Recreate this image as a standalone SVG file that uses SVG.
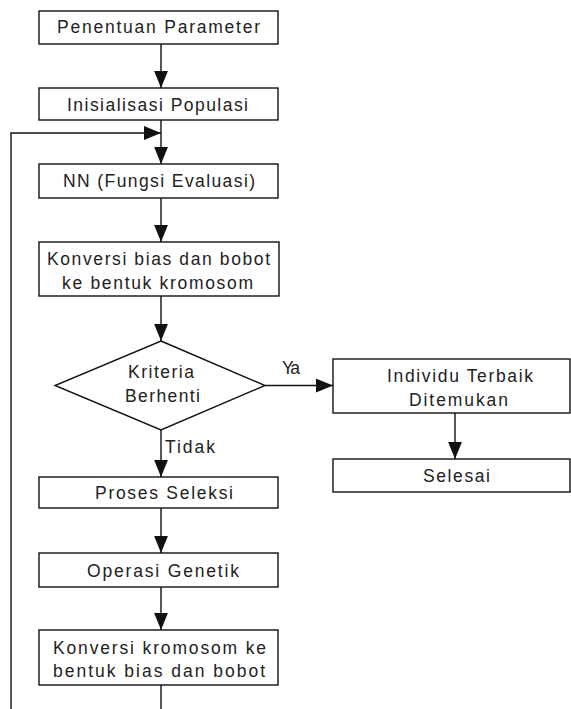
<svg xmlns="http://www.w3.org/2000/svg" width="571" height="709" viewBox="0 0 571 709">
<defs>
<style>
.box{fill:#fff;stroke:#111;stroke-width:1.4}
.ln{fill:none;stroke:#111;stroke-width:1.4}
text{font-family:"Liberation Sans",Arial,sans-serif;font-size:17.5px;fill:#222}
</style>
<marker id="ah" markerUnits="userSpaceOnUse" markerWidth="17" markerHeight="14" viewBox="0 0 16 13" refX="16" refY="6.5" orient="auto">
<path d="M0,0 L16,6.5 L0,13 z" fill="#111"/>
</marker>
</defs>
<rect width="571" height="709" fill="#fff"/>
<g id="connectors">
<line class="ln" x1="161" y1="44" x2="161" y2="88" marker-end="url(#ah)"/>
<line class="ln" x1="161" y1="120" x2="161" y2="164" marker-end="url(#ah)"/>
<path class="ln" d="M161,685 V730 H11 V133 H161" marker-end="url(#ah)"/>
<line class="ln" x1="161" y1="198" x2="161" y2="242" marker-end="url(#ah)"/>
<line class="ln" x1="161" y1="296" x2="161" y2="341" marker-end="url(#ah)"/>
<line class="ln" x1="265" y1="385.5" x2="333" y2="385.5" marker-end="url(#ah)"/>
<line class="ln" x1="161" y1="430" x2="161" y2="477" marker-end="url(#ah)"/>
<line class="ln" x1="455" y1="413" x2="455" y2="459" marker-end="url(#ah)"/>
<line class="ln" x1="161" y1="508" x2="161" y2="553" marker-end="url(#ah)"/>
<line class="ln" x1="161" y1="587" x2="161" y2="630" marker-end="url(#ah)"/>
<text x="282" y="374" textLength="18">Ya</text>
<text x="165" y="453" textLength="50">Tidak</text>
</g>
<g id="n1">
<rect class="box" x="39" y="11" width="239" height="33"/>
<text x="57" y="33" textLength="203">Penentuan Parameter</text>
</g>
<g id="n2">
<rect class="box" x="39" y="88" width="239" height="32"/>
<text x="67" y="111" textLength="181">Inisialisasi Populasi</text>
</g>
<g id="n3">
<rect class="box" x="39" y="164" width="239" height="34"/>
<text x="63" y="187" textLength="192">NN (Fungsi Evaluasi)</text>
</g>
<g id="n4">
<rect class="box" x="39" y="242" width="240" height="54"/>
<text x="47" y="265" textLength="223">Konversi bias dan bobot</text>
<text x="62" y="289" textLength="191">ke bentuk kromosom</text>
</g>
<g id="n5">
<polygon class="box" points="161,341 265,385.5 161,430 55,385.5"/>
<text x="128" y="378" textLength="66">Kriteria</text>
<text x="125" y="402" textLength="75">Berhenti</text>
</g>
<g id="n6">
<rect class="box" x="333" y="359" width="237" height="54"/>
<text x="387" y="382" textLength="146">Individu Terbaik</text>
<text x="409" y="406" textLength="99">Ditemukan</text>
</g>
<g id="n7">
<rect class="box" x="333" y="459" width="237" height="33"/>
<text x="423" y="482" textLength="67">Selesai</text>
</g>
<g id="n8">
<rect class="box" x="39" y="477" width="239" height="31"/>
<text x="95" y="499" textLength="138">Proses Seleksi</text>
</g>
<g id="n9">
<rect class="box" x="39" y="553" width="239" height="34"/>
<text x="87" y="577" textLength="152">Operasi Genetik</text>
</g>
<g id="n10">
<rect class="box" x="39" y="630" width="239" height="55"/>
<text x="53" y="654" textLength="213">Konversi kromosom ke</text>
<text x="53" y="677" textLength="212">bentuk bias dan bobot</text>
</g>
</svg>
